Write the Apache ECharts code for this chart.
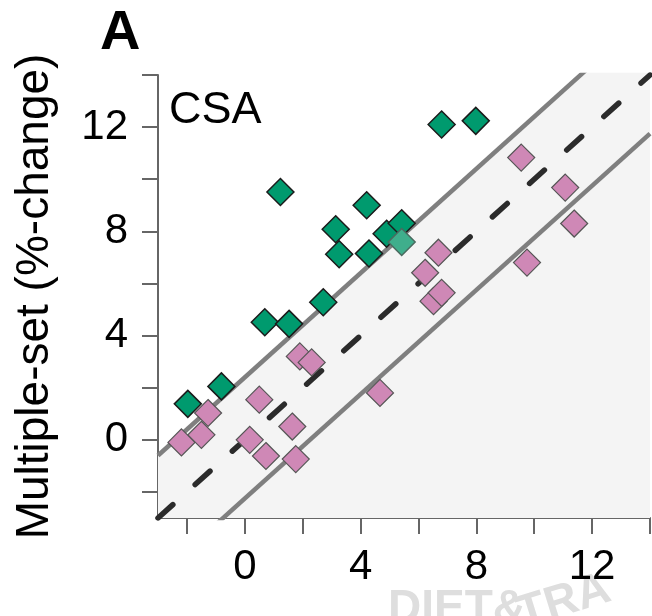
<!DOCTYPE html>
<html>
<head>
    <meta charset="utf-8">
    <title>CSA</title>
    <script src="https://cdn.jsdelivr.net/npm/echarts@6/dist/echarts.min.js"></script>
    <style>
        html, body { margin: 0; padding: 0; background: #fff; }
        #chart { width: 652px; height: 616px; }
    </style>
</head>
<body>
<div id="chart"></div>
<script>
    // 数据：横轴与纵轴的百分比变化
    var greenX = [-1.97, -0.81, 0.69, 1.53, 2.71, 1.23, 4.21, 3.14, 3.26, 4.29, 4.90, 5.42, 5.42, 6.80, 7.98];
    var greenY = [1.38, 2.05, 4.51, 4.45, 5.28, 9.51, 9.00, 8.08, 7.12, 7.15, 7.91, 8.31, 7.59, 12.10, 12.24];
    var fadedGreen = [12]; // 颜色较浅的那个点

    var pinkX = [-2.19, -1.50, -1.27, 0.50, 0.17, 0.73, 1.64, 1.76, 1.90, 2.31, 4.67, 6.23, 6.69, 6.52, 6.80, 9.55, 11.07, 11.38, 9.75];
    var pinkY = [-0.10, 0.19, 1.03, 1.54, 0.00, -0.62, 0.51, -0.74, 3.20, 2.97, 1.80, 6.41, 7.18, 5.32, 5.64, 10.83, 9.68, 8.30, 6.80];

    // 参考线：y = x 以及上下界
    var lineX = [-3, 14];
    var upperOffset = 2.4;
    var lowerOffset = -2.25;

    var tickValues = [-2, 0, 2, 4, 6, 8, 10, 12, 14];
    var labelValues = [0, 4, 8, 12];

    var font = '"Liberation Sans", Arial, sans-serif';

    function pairs(xs, ys) {
        return xs.map(function (x, i) { return [x, ys[i]]; });
    }
    function offsetLine(off) {
        return lineX.map(function (x) { return [x, x + off]; });
    }

    var greenData = pairs(greenX, greenY).map(function (p, i) {
        if (fadedGreen.indexOf(i) >= 0) {
            return { value: p, itemStyle: { color: '#3fae8c', borderColor: '#4a6a5f' } };
        }
        return p;
    });

    var axisCommon = {
        type: 'value',
        min: -3,
        max: 14,
        splitLine: { show: false },
        axisLine: { show: true, onZero: false, lineStyle: { color: '#666', width: 2 } },
        axisTick: { show: true, inside: false, length: 16, customValues: tickValues, lineStyle: { color: '#666', width: 2 } },
        axisLabel: { customValues: labelValues, color: '#000', fontSize: 42, fontFamily: font }
    };

    var myChart = echarts.init(document.getElementById('chart'), null, { renderer: 'canvas' });

    myChart.setOption({
        backgroundColor: '#fff',
        animation: false,
        grid: { left: 158, top: 75, width: 492, height: 443, containLabel: false },
        xAxis: echarts.util.merge({ axisLabel: { margin: 28 } }, axisCommon),
        yAxis: echarts.util.merge({
            axisLabel: { margin: 30 },
            name: 'Multiple-set (%-change)',
            nameLocation: 'middle',
            nameRotate: 90,
            nameGap: 100,
            nameTextStyle: { color: '#000', fontSize: 46, fontFamily: font }
        }, axisCommon),
        graphic: [
            { type: 'text', left: 100, top: 6, style: { text: 'A', fill: '#000', font: 'bold 56px ' + font } },
            { type: 'text', left: 169, top: 88, style: { text: 'CSA', fill: '#000', font: '45px ' + font } },
            // 底部水印
            { type: 'text', x: 388, y: 586, style: { text: 'DIET&', fill: '#dedede', font: 'bold 46px ' + font } },
            { type: 'text', x: 512, y: 594, rotation: 0.3, style: { text: 'TRA', fill: '#dedede', font: 'bold 46px ' + font } }
        ],
        series: [
            {
                type: 'line',
                data: offsetLine(upperOffset),
                symbol: 'none',
                clip: true,
                lineStyle: { color: '#7f7f7f', width: 4.5 },
                areaStyle: { color: '#f4f4f4', origin: 'start', opacity: 1 },
                z: 1
            },
            {
                type: 'line',
                data: offsetLine(lowerOffset),
                symbol: 'none',
                clip: true,
                lineStyle: { color: '#7f7f7f', width: 4.5 },
                z: 2
            },
            {
                type: 'line',
                data: offsetLine(0),
                symbol: 'none',
                clip: true,
                lineStyle: { color: '#2b2b2b', width: 5.5, type: [20, 30], cap: 'round' },
                z: 2
            },
            {
                type: 'scatter',
                data: greenData,
                symbol: 'diamond',
                symbolSize: 27,
                itemStyle: { color: '#009a6e', borderColor: '#1b1b1b', borderWidth: 1.5, opacity: 1 },
                z: 3
            },
            {
                type: 'scatter',
                data: pairs(pinkX, pinkY),
                symbol: 'diamond',
                symbolSize: 27,
                itemStyle: { color: '#cf88b6', borderColor: '#555', borderWidth: 1.2, opacity: 1 },
                z: 4
            }
        ]
    });
</script>
</body>
</html>
